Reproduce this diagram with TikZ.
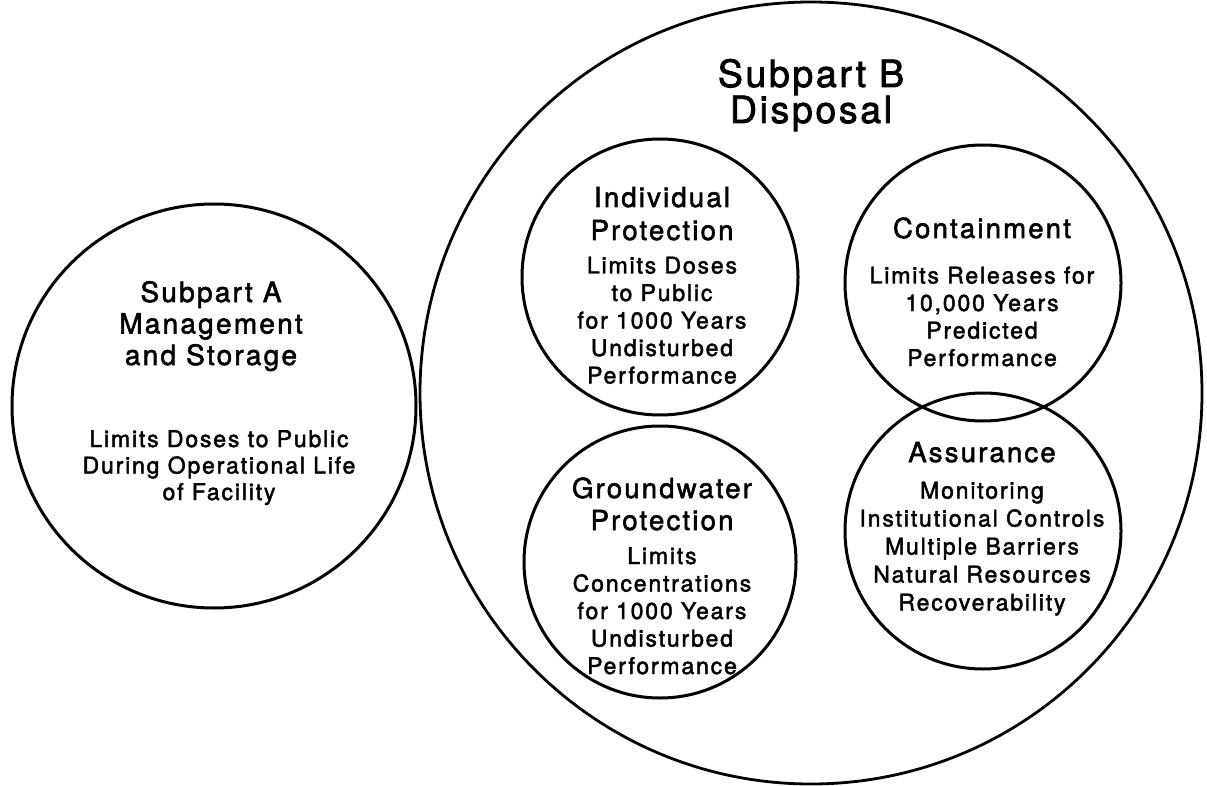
\documentclass[tikz,border=0pt]{standalone}
\usepackage{fontspec}
\setmainfont{TeX Gyre Heros}[LetterSpace=8,FakeBold=2]
\newfontfamily\bigfont{TeX Gyre Heros}[LetterSpace=7,FakeBold=2]
\begin{document}
\begin{tikzpicture}[x=1pt,y=-1pt,
  ring/.style={draw, circle, line width=3pt, inner sep=0pt, minimum size=#1},
  tb/.style={font=\bigfont\fontsize{37.5}{40}\selectfont, anchor=base, inner sep=0pt},
  ta/.style={font=\fontsize{28}{30}\selectfont, anchor=base, inner sep=0pt},
  tt/.style={font=\fontsize{27.5}{30}\selectfont, anchor=base, inner sep=0pt},
  bt/.style={font=\fontsize{23}{26}\selectfont, anchor=base, inner sep=0pt}]
\useasboundingbox (0,0) rectangle (1207,786);
\fill[white] (0,0) rectangle (1207,786);
% circles
\node[ring=404pt] (A) at (214,406) {};
\node[ring=782pt, line width=2.8pt] (B) at (811,393) {};
\node[ring=276pt] (IP) at (660,277) {};
\node[ring=276pt] (CT) at (983,283) {};
\node[ring=276pt] (AS) at (983,531) {};
\node[ring=272pt] (GP) at (660,562) {};
% Subpart A
\node[ta] (a1) at (211,302) {Subpart A};
\node[ta] (a2) at (211,333.5) {Management};
\node[ta] (a3) at (211,365) {and Storage};
\node[bt] (a4) at (219,447) {Limits Doses to Public};
\node[bt] (a5) at (219,473.5) {During Operational Life};
\node[bt] (a6) at (219,500) {of Facility};
% Subpart B
\node[tb] (b1) at (811,87) {Subpart B};
\node[tb] (b2) at (811,123) {Disposal};
% Individual Protection
\node[tt] (i1) at (662,207) {Individual};
\node[tt] (i2) at (662,240) {Protection};
\node[bt] (i3) at (662,273.5) {Limits Doses};
\node[bt] (i4) at (662,301) {to Public};
\node[bt] (i5) at (662,328.5) {for 1000 Years};
\node[bt] (i6) at (662,356) {Undisturbed};
\node[bt] (i7) at (662,383.5) {Performance};
% Containment
\node[tt] (c1) at (982,238) {Containment};
\node[bt] (c2) at (982,283.5) {Limits Releases for};
\node[bt] (c3) at (982,311) {10,000 Years};
\node[bt] (c4) at (982,338.5) {Predicted};
\node[bt] (c5) at (982,366) {Performance};
% Assurance
\node[tt] (s1) at (982,462) {Assurance};
\node[bt] (s2) at (982,498.5) {Monitoring};
\node[bt] (s3) at (982,526.5) {Institutional Controls};
\node[bt] (s4) at (982,554.5) {Multiple Barriers};
\node[bt] (s5) at (982,582.5) {Natural Resources};
\node[bt] (s6) at (982,610.5) {Recoverability};
% Groundwater Protection
\node[tt] (g1) at (662,498) {Groundwater};
\node[tt] (g2) at (662,530) {Protection};
\node[bt] (g3) at (662,564) {Limits};
\node[bt] (g4) at (662,591.5) {Concentrations};
\node[bt] (g5) at (662,619) {for 1000 Years};
\node[bt] (g6) at (662,646.5) {Undisturbed};
\node[bt] (g7) at (662,674) {Performance};
\end{tikzpicture}
\end{document}
